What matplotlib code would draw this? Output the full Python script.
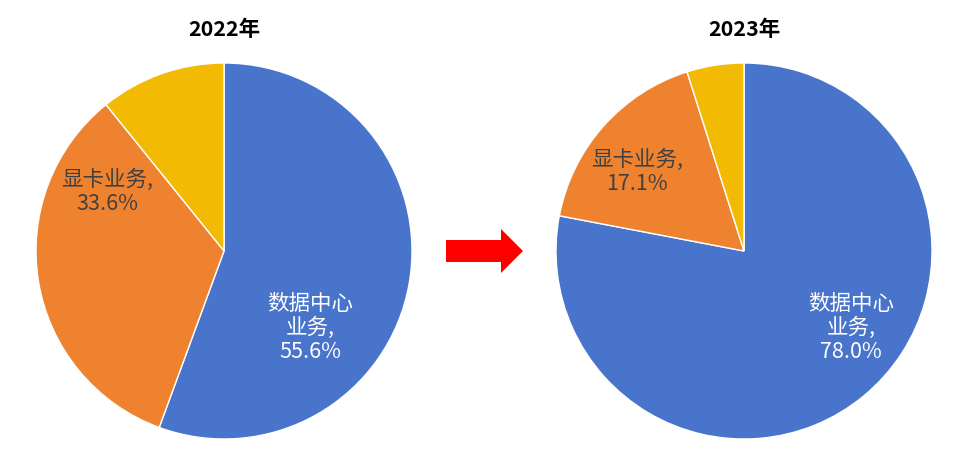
import matplotlib
matplotlib.use('Agg')
import matplotlib.pyplot as plt
from matplotlib.patches import FancyArrow

plt.rcParams['font.family'] = ['Noto Sans CJK SC', 'DejaVu Sans']

years = ['2022年', '2023年']
segments = ['数据中心\n业务', '显卡业务', '其他']
share_2022 = [55.6, 33.6, 10.8]
share_2023 = [78.0, 17.1, 4.9]
colors = ['#4874CB', '#EE822F', '#F2BA02']

W, H = 960, 467
fig = plt.figure(figsize=(9.6, 4.67), dpi=100)
ax = fig.add_axes([0, 0, 1, 1])

# pies drawn in pixel units
centers = [(224, H - 251), (744, H - 251)]
radius = 188
# label anchor points (pixels) for the two labelled wedges
label_pos = [
    {0: (310, H - 328), 1: (107, H - 192)},
    {0: (851, H - 328), 1: (637, H - 172)},
]

for i, vals in enumerate([share_2022, share_2023]):
    ax.pie(vals, colors=colors, startangle=90, counterclock=False,
           center=centers[i], radius=radius,
           wedgeprops=dict(edgecolor='white', linewidth=1))
    for j in (0, 1):
        x, y = label_pos[i][j]
        txt = '%s,\n%.1f%%' % (segments[j], vals[j])
        c = 'white' if j == 0 else '#404040'
        ax.text(x, y, txt, ha='center', va='center', fontsize=15.5,
                color=c, linespacing=1.1)
    ax.text(centers[i][0], H - 30, years[i], ha='center', va='center',
            fontsize=15.5, fontweight='bold', color='black')

# red arrow between the pies
ax.add_patch(FancyArrow(446, H - 251, 77, 0, width=22, head_width=44,
                        head_length=22, length_includes_head=True,
                        color='#FF0000', linewidth=0))

ax.set_xlim(0, W)
ax.set_ylim(0, H)
ax.set_aspect('equal')
ax.axis('off')

fig.savefig('out.png', dpi=100)
